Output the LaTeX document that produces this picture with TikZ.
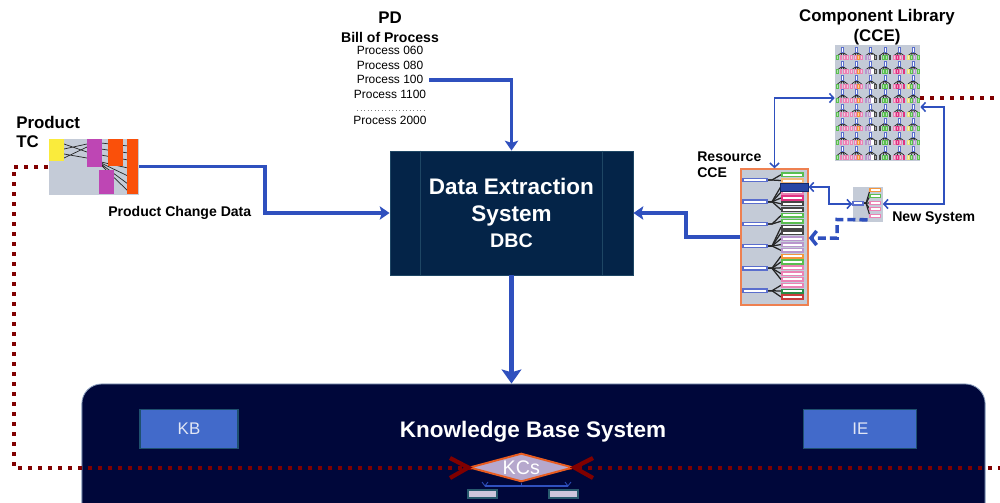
\documentclass[tikz,border=0pt]{standalone}
\usepackage{fontspec}
\setmainfont{Liberation Sans}
\usetikzlibrary{arrows.meta,shapes.geometric,calc,positioning}

\definecolor{desnavy}{RGB}{4,36,72}
\definecolor{desrim}{RGB}{30,70,100}
\definecolor{kbsnavy}{RGB}{0,7,58}
\definecolor{kbsrim}{RGB}{140,160,190}
\definecolor{kbblue}{RGB}{66,106,202}
\definecolor{subrim}{RGB}{30,80,110}
\definecolor{subtext}{RGB}{225,230,245}
\definecolor{linkblue}{RGB}{47,80,190}
\definecolor{dotred}{RGB}{128,0,0}
\definecolor{panelgray}{RGB}{196,203,215}
\definecolor{rimorange}{RGB}{238,128,80}
\definecolor{kcfill}{RGB}{182,168,205}
\definecolor{kcrim}{RGB}{232,92,32}
\definecolor{chipfill}{RGB}{205,198,220}
\definecolor{chiprim}{RGB}{40,90,110}
\definecolor{rootblue}{RGB}{90,110,205}
\definecolor{hiliteblue}{RGB}{40,70,165}
\definecolor{hiliterim}{RGB}{20,40,100}
\definecolor{leafgreen}{RGB}{90,190,80}
\definecolor{leafdkgreen}{RGB}{40,140,70}
\definecolor{leafpeach}{RGB}{245,185,120}
\definecolor{leaforange}{RGB}{245,150,60}
\definecolor{leafpink}{RGB}{235,130,180}
\definecolor{leafmag}{RGB}{225,50,130}
\definecolor{leafgray}{RGB}{70,70,70}
\definecolor{leaflav}{RGB}{185,150,205}
\definecolor{leafred}{RGB}{200,60,60}
\definecolor{leafyellow}{RGB}{235,225,120}
\definecolor{tcyellow}{RGB}{250,235,60}
\definecolor{tcmag}{RGB}{190,70,180}
\definecolor{tcorange}{RGB}{250,80,10}

\tikzset{
  heading/.style={font=\bfseries\fontsize{12}{14}\selectfont, inner sep=0pt},
  caption/.style={font=\bfseries\fontsize{10}{12}\selectfont, inner sep=0pt},
  procline/.style={font=\fontsize{8.5}{10}\selectfont, text height=6.5pt, text depth=1.5pt, inner sep=1pt},
  panel/.style={fill=panelgray, inner sep=0pt},
  desbox/.style={fill=desnavy, draw=desrim, line width=0.6pt, minimum width=6.075cm, minimum height=3.1cm,
    text=white, align=center, font=\bfseries\fontsize{16}{19}\selectfont},
  desline/.style={draw=desrim, line width=0.6pt},
  kbspanel/.style={fill=kbsnavy, draw=kbsrim, line width=0.6pt, rounded corners=14pt,
    minimum width=22.575cm, minimum height=3.9cm},
  kbstitle/.style={text=white, font=\bfseries\fontsize{16}{19}\selectfont},
  subbox/.style={fill=kbblue, draw=subrim, line width=0.8pt, minimum width=2.45cm, minimum height=0.98cm,
    text=subtext, font=\fontsize{12}{14}\selectfont},
  kcnode/.style={diamond, aspect=3.6, fill=kcfill, draw=kcrim, line width=1.4pt, minimum width=2.6cm,
    minimum height=0.71cm, inner sep=0pt, text=white, font=\fontsize{14}{16}\selectfont},
  link/.style={draw=linkblue, line width=2.5pt, -{Stealth[length=7pt,width=9.5pt,inset=1.5pt]}},
  thinlink/.style={draw=linkblue, line width=1.1pt,
    {Straight Barb[length=3pt,width=6.5pt]}-{Straight Barb[length=3pt,width=6.5pt]}},
  dashlink/.style={draw=linkblue, line width=2.5pt, dash pattern=on 5.7pt off 2.85pt,
    -{Straight Barb[length=4pt,width=10pt]}},
  dotlink/.style={draw=dotred, line width=2.85pt, dash pattern=on 2.85pt off 4.26pt},
  fanline/.style={draw=black!85, line width=0.5pt},
  rootbar/.style={draw=rootblue, fill=white, line width=0.9pt},
}

\begin{document}
\begin{tikzpicture}[x=0.025cm, y=-0.025cm]
  \useasboundingbox (0,0) rectangle (1000,502);

  % knowledge base panel
  \node[kbspanel] (kbs) at (533.5,462) {};
  \node[kbstitle] (kbsname) at (533,432) {Knowledge Base System};
  \node[subbox] (kb) at (189,429) {KB};
  \node[subbox, minimum width=2.82cm] (ie) at (860.3,429) {IE};

  % extraction box
  \node[desbox] (des) at (511.5,213) {Data Extraction\\System\\{\fontsize{14}{17}\selectfont DBC}};
  \draw[desline] ($(des.north west)+(31,0)$) -- ($(des.south west)+(31,0)$);
  \draw[desline] ($(des.north east)+(-31,0)$) -- ($(des.south east)+(-31,0)$);

  % product TC
  \node[heading, anchor=west] (prod) at (16,122) {Product};
  \node[heading, anchor=west] (tcname) at (16,142) {TC};
  \node[panel, minimum width=2.25cm, minimum height=1.4cm] (tc) at (93.7,166.5) {};
  \draw[fanline] (64,144) -- (87,152) (64,149) -- (87,144) (64,154) -- (87,158) (64,158) -- (87,147);
  \draw[fanline] (101,143) -- (128,146) (101,149) -- (128,153) (101,155) -- (128,160)
    (101,162) -- (128,168) (101,163) -- (128,176) (101,164) -- (128,184) (101,165) -- (128,191);
  \fill[tcyellow] (49.3,139.3) rectangle (64.3,161);
  \fill[tcmag] (86.7,139.3) rectangle (101.7,167.3);
  \fill[tcmag] (99,170) rectangle (114,194);
  \fill[tcorange] (108.3,139.3) rectangle (122.7,165.7);
  \fill[tcorange] (127.3,139.3) rectangle (138.3,194.3);
  \node[caption, anchor=west] (pcd) at (108,213) {Product Change Data};

  % bill of process
  \node[heading] (pd) at (390,18) {PD};
  \node[caption] (bop) at (390,37) {Bill of Process};
  \node[procline] (p060) at (390,51) {Process 060};
  \node[procline, below=0pt of p060] (p080) {Process 080};
  \node[procline, below=0pt of p080] (p100) {Process 100};
  \node[procline, below=0pt of p100] (p1100) {Process 1100};
  \draw[gray, line width=0.5pt, dotted] (357,110) -- (425,110);
  \node[procline] (p2000) at (390,121) {Process 2000};

  % component library
  \node[heading] (complib) at (877,17) {Component Library};
  \node[heading] (cce) at (877,37) {(CCE)};
  \node[panel, minimum width=2.125cm, minimum height=2.9cm] (lib) at (877.5,103) {};
  \foreach \r in {0,...,7}
    \foreach \c/\la/\lb/\lc/\ld in {0/leafgreen/leafpink/leafpink/leafpink,
        1/leafpink/leafpink/leaforange/leafpink, 2/leaflav/leaflav/white/leafgray,
        3/leafgray/leafgreen/leafgreen/leafgray, 4/leafpink/leafmag/leafpink/leafmag,
        5/leafyellow/leafgreen/leaflav/leafgreen} {
      \begin{scope}[shift={(836+14.1*\c,47+14.2*\r)}]
        \draw[fanline, line width=0.5pt] (6.5,5) -- (1.6,8.5) (6.5,5) -- (4.9,8.5)
          (6.5,5) -- (8.2,8.5) (6.5,5) -- (11.5,8.5);
        \draw[rootbar, line width=0.4pt] (5.5,0) rectangle (7.5,5);
        \foreach \k/\col in {0/\la,1/\lb,2/\lc,3/\ld}
          \draw[draw=\col, fill=\col!45, line width=0.5pt] (0.7+3.3*\k,8.5) rectangle (2.5+3.3*\k,12.5);
      \end{scope}
    }

  % resource CCE
  \node[caption, anchor=west] (resname) at (697,157) {Resource};
  \node[caption, anchor=west] (rescce) at (697,173) {CCE};
  \node[panel, draw=rimorange, line width=1pt, minimum width=1.675cm, minimum height=3.4cm] (res) at (774.5,237) {};
  \foreach \cy/\first/\last in {180/0/1, 201.7/2/6, 224/7/8, 246/9/13, 268.3/14/18, 290.7/19/21} {
    \foreach \i in {\first,...,\last}
      \draw[fanline, line width=0.9pt] (766,\cy) -- (772,\cy) -- (781,174.7+5.82*\i);
    \draw[rootbar] (743,\cy-1.7) rectangle (767,\cy+1.7);
  }
  \foreach \i/\col in {0/leafgreen,1/leafpeach,3/leafpink,4/leafmag,5/leafgray,6/leafgray,7/leafgreen,
      8/leafgreen,9/leafgray,10/leafgray,11/leaflav,12/leaflav,13/leaflav,14/leaforange,15/leafgreen,
      16/leafpink,17/leafpink,18/leafpink,19/leafpink,20/leafdkgreen,21/leafred}
    \draw[draw=\col, fill=white, line width=1.1pt] (782,172.9+5.82*\i) rectangle (803,176.5+5.82*\i);
  \node[fill=hiliteblue, draw=hiliterim, line width=0.6pt, minimum width=0.7cm, minimum height=0.2cm,
    inner sep=0pt] (hilite) at (794,187) {};

  % new system
  \node[panel, minimum width=0.75cm, minimum height=0.875cm] (newsys) at (867.5,204) {};
  \foreach \y/\col in {190/leaforange,196/leafgreen,202.7/leafpink,209.3/leafpink,216/leafpink} {
    \draw[fanline, line width=0.8pt] (862,203.3) -- (866,203.3) -- (870,\y);
    \draw[draw=\col, fill=white, line width=0.9pt] (870,\y-1.5) rectangle (880.5,\y+1.5);
  }
  \draw[rootbar] (853,201.6) rectangle (863,205);
  \node[caption, anchor=west] (nsname) at (892,218) {New System};

  % data links
  \draw[link] (tc.east) -- (265,166.5) |- (des.west);
  \draw[link] ([xshift=3pt]p100.east) -| (des.north);
  \draw[link] (res.west) -- (686,237) |- (des.east);
  \draw[link, line width=4pt, -{Stealth[length=10pt,width=14pt,inset=2pt]}] (des.south) -- (des.south |- kbs.north);
  \draw[thinlink] (res.north) |- ($(lib.west)+(0,-5)$);
  \draw[thinlink] ($(lib.east)+(0,4)$) -- (944,107) |- (newsys.east);
  \draw[thinlink] (hilite.east) -- (829,187) |- (newsys.west);
  \draw[dashlink] ($(newsys.south)+(0,-2)$) -- (837,219.5) -- (837,238) -- ($(res.east)+(0,1)$);

  % change data flow
  \draw[dotlink] (tc.west) -- (14,166.5) -- (14,468) -- (1000,468);
  \draw[dotlink] ($(lib.east)+(0,-5)$) -- (1000,98);

  % knowledge components
  \node[kcnode] (kcs) at (521.3,467.5) {KCs};
  \draw[dotred, line width=3pt] (450,458) -- (kcs.west) -- (450,478);
  \draw[dotred, line width=3pt] (593,458) -- (kcs.east) -- (593,478);
  \draw[linkblue, line width=0.8pt] (485,486) -- (568,486) (kcs.south) -- (kcs.south |- 0,486);
  \draw[linkblue, line width=0.6pt] (482,482) -- (485,486) -- (488,482) (565,482) -- (568,486) -- (571,482);
  \draw[fill=chipfill, draw=chiprim, line width=0.8pt] (468,490) rectangle (497,498);
  \draw[fill=chipfill, draw=chiprim, line width=0.8pt] (549,490) rectangle (578,498);
\end{tikzpicture}
\end{document}
